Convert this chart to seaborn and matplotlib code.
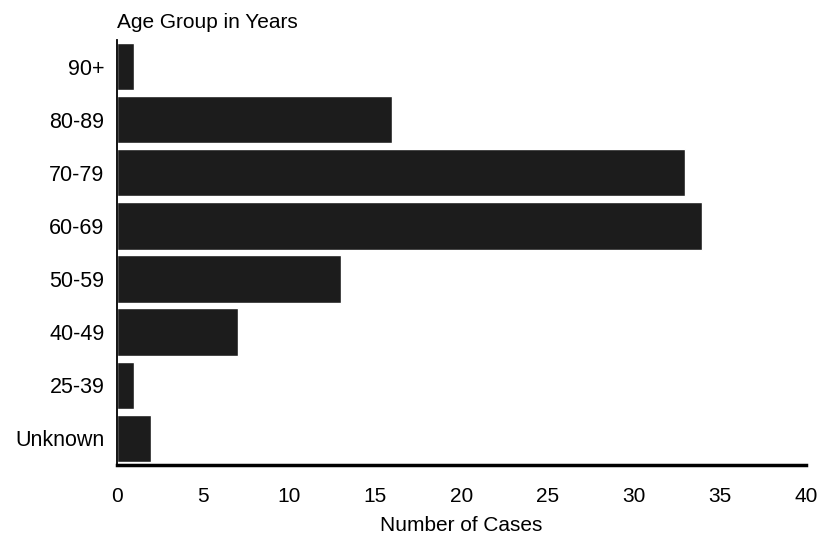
import matplotlib
matplotlib.use('Agg')
import matplotlib.pyplot as plt
import seaborn as sns
import pandas as pd

# age groups, top to bottom
age_groups = ['90+', '80-89', '70-79', '60-69', '50-59', '40-49', '25-39', 'Unknown']
cases = [1, 16, 33, 34, 13, 7, 1, 2]
x_ticks = [0, 5, 10, 15, 20, 25, 30, 35, 40]

df = pd.DataFrame({'age': age_groups, 'cases': cases})

sns.set_style('white')
plt.rcParams['font.family'] = ['Liberation Sans', 'DejaVu Sans']
plt.rcParams['text.color'] = 'black'
plt.rcParams['xtick.color'] = 'black'
plt.rcParams['ytick.color'] = 'black'
plt.rcParams['axes.labelcolor'] = 'black'

fig = plt.figure(figsize=(8.18, 5.4), dpi=100)
ax = fig.add_axes([0.143, 0.139, 0.842, 0.787])

sns.barplot(data=df, x='cases', y='age', order=age_groups, orient='h',
            color='#1c1c1c', saturation=1, width=0.89, ax=ax)

ax.set_xlim(0, 40)
ax.set_ylim(7.5, -0.5)
ax.set_xticks(x_ticks)
ax.set_xticklabels([str(t) for t in x_ticks], fontsize=15)
ax.tick_params(axis='x', length=0, pad=16)
ax.tick_params(axis='y', length=0, pad=9, labelsize=15.5)

ax.set_xlabel('Number of Cases', fontsize=15, labelpad=7)
ax.set_ylabel('')
fig.text(0.143, 0.958, 'Age Group in Years', fontsize=15, ha='left', va='center')

sns.despine(ax=ax)
ax.spines['bottom'].set_linewidth(2.5)
ax.spines['left'].set_linewidth(1.3)
ax.spines['bottom'].set_color('black')
ax.spines['left'].set_color('black')

fig.savefig('out.png', dpi=100)
